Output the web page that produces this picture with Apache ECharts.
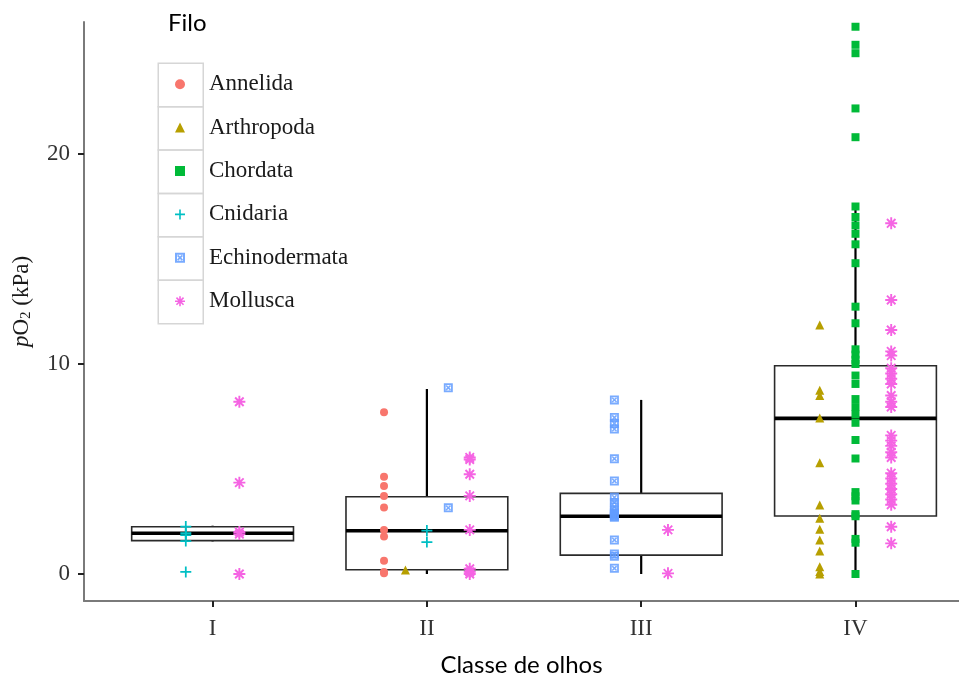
<!DOCTYPE html>
<html>
<head>
<meta charset="utf-8">
<script src="https://cdn.jsdelivr.net/npm/echarts@6/dist/echarts.min.js"></script>
<style>
html,body{margin:0;padding:0;background:#fff;}
#chart{width:959px;height:679px;}
</style>
</head>
<body>
<div id="chart"></div>
<script>
// ---- data ----
const classes = ['I', 'II', 'III', 'IV'];
const phyla = ['Annelida', 'Arthropoda', 'Chordata', 'Cnidaria', 'Echinodermata', 'Mollusca'];

// values per class [I, II, III, IV]
const annelida = [
  [],
  [7.7, 4.63, 4.19, 3.71, 3.17, 2.1, 1.78, 0.63, 0.1, 0.03],
  [],
  []
];
const arthropoda = [
  [],
  [0.19],
  [],
  [11.86, 8.75, 8.5, 7.43, 5.3, 3.29, 2.65, 2.13, 1.62, 1.1, 0.35, 0.12, 0.0]
];
const chordata = [
  [],
  [],
  [],
  [26.06, 25.2, 24.8, 22.17, 20.8, 17.5, 17.0, 16.6, 16.2, 15.7, 14.8, 12.73, 11.94,
   10.7, 10.45, 10.2, 10.0, 9.45, 9.05, 8.33, 7.95, 7.6, 7.2, 6.38, 5.5,
   3.9, 3.7, 3.5, 2.85, 2.75, 1.67, 1.49, 0.0]
];
const cnidaria = [
  [2.26, 1.95, 1.85, 1.57, 0.1],
  [2.07, 1.52],
  [],
  []
];
const echinodermata = [
  [],
  [8.87, 3.15],
  [8.29, 7.45, 7.17, 6.9, 5.49, 4.43, 3.65, 3.4, 3.2, 3.0, 2.9, 2.85, 2.8, 2.75, 2.7, 1.62, 0.95, 0.85, 0.27],
  []
];
const mollusca = [
  [8.2, 4.35, 2.0, 1.9, 0.0],
  [5.55, 5.45, 4.75, 3.72, 2.1, 0.25, 0.1, 0.0],
  [2.1, 0.03],
  [16.7, 13.05, 11.62, 10.6, 10.4, 9.8, 9.55, 9.3, 9.05, 8.5, 8.2, 7.95,
   6.6, 6.35, 6.1, 5.8, 5.55, 4.8, 4.55, 4.3, 4.05, 3.8, 3.55, 3.3, 2.25, 1.46]
];

// box statistics per class [I, II, III, IV]
const whiskerLow  = [1.55, 0.0, 0.0, 0.0];
const q1          = [1.59, 0.2, 0.9, 2.76];
const median      = [1.94, 2.06, 2.75, 7.41];
const q3          = [2.25, 3.68, 3.84, 9.92];
const whiskerHigh = [2.3, 8.81, 8.29, 17.43];

const yTicks = [0, 10, 20];

// ---- styling ----
const allData = [annelida, arthropoda, chordata, cnidaria, echinodermata, mollusca];
const colors = ['#F8766D', '#B79F00', '#00BA38', '#00BFC4', '#619CFF', '#F564E3'];
const plusPath = 'path://M4.2,0H5.8V10H4.2Z M0,4.2H10V5.8H0Z';
const boxXPath = 'path://M0,0H10V10H0Z M2,2V8H8V2Z M2,3.2L3.2,2L8,6.8L6.8,8Z M6.8,2L8,3.2L3.2,8L2,6.8Z';
const starPath = 'path://M4.2,0H5.8V10H4.2Z M0,4.2H10V5.8H0Z M2.02,0.89L9.11,7.98L7.98,9.11L0.89,2.02Z M7.98,0.89L9.11,2.02L2.02,9.11L0.89,7.98Z';
const symbols = ['circle', 'triangle', 'rect', plusPath, boxXPath, starPath];
const sizes = [8, 9, 8, 11, 9, 12];
const dodgeWidth = 0.5;

function pointsFor(pIdx) {
  const out = [];
  classes.forEach((c, ci) => {
    const present = phyla.filter((p, k) => allData[k][ci].length > 0);
    const idx = present.indexOf(phyla[pIdx]);
    if (idx < 0) return;
    const n = present.length;
    const off = -dodgeWidth / 2 + dodgeWidth / n * (idx + 0.5);
    allData[pIdx][ci].forEach(v => out.push([ci + 1 + off, v]));
  });
  return out;
}

function renderBox(params, api) {
  const x = api.value(0);
  const c = v => api.coord([x, v]);
  const half = api.size([0.755, 0])[0] / 2;
  const pLow = c(api.value(1)), pQ1 = c(api.value(2)), pMed = c(api.value(3)),
        pQ3 = c(api.value(4)), pHigh = c(api.value(5));
  return {
    type: 'group',
    children: [
      { type: 'line', shape: { x1: pLow[0], y1: pLow[1], x2: pQ1[0], y2: pQ1[1] }, style: { stroke: '#000', lineWidth: 2.2 } },
      { type: 'line', shape: { x1: pQ3[0], y1: pQ3[1], x2: pHigh[0], y2: pHigh[1] }, style: { stroke: '#000', lineWidth: 2.2 } },
      { type: 'rect', shape: { x: pQ1[0] - half, y: pQ3[1], width: 2 * half, height: pQ1[1] - pQ3[1] },
        style: { fill: '#fff', stroke: '#2a2a2a', lineWidth: 1.6 } },
      { type: 'line', shape: { x1: pMed[0] - half, y1: pMed[1], x2: pMed[0] + half, y2: pMed[1] }, style: { stroke: '#000', lineWidth: 3.6 } }
    ]
  };
}

const chart = echarts.init(document.getElementById('chart'), null, { renderer: 'canvas' });

const series = [{
  type: 'custom',
  name: 'box',
  renderItem: renderBox,
  encode: { x: 0, y: [1, 2, 3, 4, 5] },
  data: classes.map((c, i) => [i + 1, whiskerLow[i], q1[i], median[i], q3[i], whiskerHigh[i]]),
  z: 1,
  silent: true
}];
phyla.forEach((p, k) => {
  series.push({
    type: 'scatter',
    name: p,
    symbol: symbols[k],
    symbolSize: sizes[k],
    itemStyle: { color: colors[k], opacity: k === 4 ? 0.85 : 1 },
    data: pointsFor(k),
    z: 3
  });
});

const legendTop = 62.5, legendStep = 43.4;

chart.setOption({
  animation: false,
  backgroundColor: '#fff',
  title: {
    text: 'Filo', left: 163, top: 6,
    textStyle: { fontFamily: 'Lato', fontSize: 24, fontWeight: 'normal', color: '#000' }
  },
  legend: {
    data: phyla,
    orient: 'vertical',
    left: 175,
    top: legendTop,
    itemWidth: 10,
    itemHeight: 10,
    itemGap: 0,
    padding: 0,
    textStyle: { fontFamily: 'Liberation Serif', fontSize: 23, color: '#1a1a1a', lineHeight: legendStep, padding: [0, 0, 0, 19] }
  },
  graphic: phyla.map((p, i) => ({
    type: 'rect',
    left: 157.5,
    top: legendTop + i * legendStep,
    shape: { width: 45, height: legendStep },
    style: { fill: 'transparent', stroke: '#d6d6d6', lineWidth: 1.5 },
    z: 0,
    silent: true
  })),
  grid: { left: 84, right: 0, top: 22, bottom: 78, containLabel: false, outerBoundsMode: 'none' },
  xAxis: {
    type: 'value',
    min: 0.4,
    max: 4.483,
    name: 'Classe de olhos',
    nameLocation: 'middle',
    nameGap: 52,
    nameTextStyle: { fontFamily: 'Lato', fontSize: 24, color: '#000' },
    axisLine: { show: true, onZero: false, lineStyle: { color: '#7a7a7a', width: 2 } },
    axisTick: { show: true, customValues: [1, 2, 3, 4], length: 6, lineStyle: { color: '#222', width: 2 } },
    axisLabel: {
      customValues: [1, 2, 3, 4],
      formatter: v => classes[Math.round(v) - 1] || '',
      fontFamily: 'Liberation Serif', fontSize: 23, color: '#333', margin: 16
    },
    splitLine: { show: false }
  },
  yAxis: {
    type: 'value',
    min: -1.286,
    max: 26.286,
    name: '{i|p}O{s|2} (kPa)',
    nameLocation: 'middle',
    nameRotate: 90,
    nameGap: 50,
    nameTextStyle: {
      fontFamily: 'Liberation Serif', fontSize: 23, color: '#1a1a1a',
      padding: [0, 0, 0, 20],
      rich: {
        i: { fontFamily: 'Liberation Serif', fontStyle: 'italic', fontSize: 23, color: '#1a1a1a' },
        s: { fontFamily: 'Liberation Serif', fontSize: 15, color: '#1a1a1a', padding: [10, 0, 0, 0] }
      }
    },
    axisLine: { show: true, onZero: false, lineStyle: { color: '#7a7a7a', width: 2 } },
    axisTick: { show: true, customValues: yTicks, length: 6, lineStyle: { color: '#222', width: 2 } },
    axisLabel: {
      customValues: yTicks,
      fontFamily: 'Liberation Serif', fontSize: 23, color: '#333', margin: 14
    },
    splitLine: { show: false }
  },
  series: series
});
</script>
</body>
</html>
